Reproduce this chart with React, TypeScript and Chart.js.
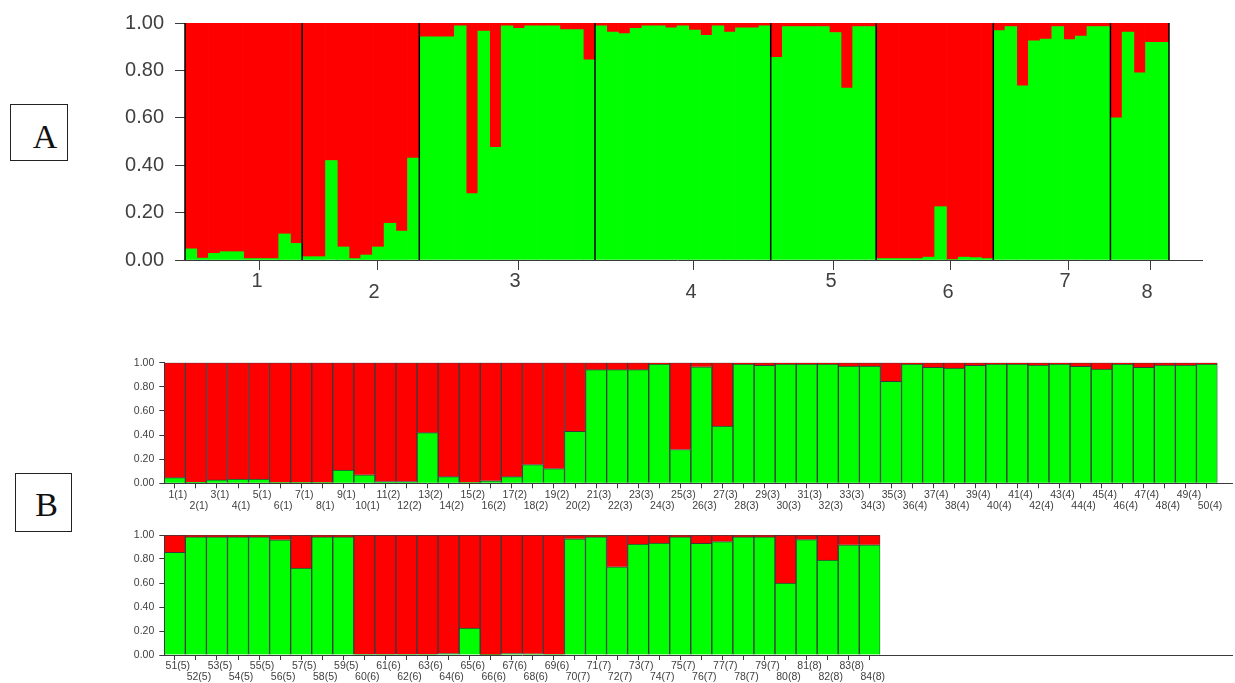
import React, { useEffect, useRef } from 'react';
import { Chart, registerables } from 'chart.js';

Chart.register(...registerables);

// ---- DATA ----
const popLabels = ['1', '2', '3', '4', '5', '6', '7', '8'];
const popSizes = [10, 10, 15, 15, 9, 10, 10, 5];
// positions (in individual index units) where population labels are written in panel A
const popTickAt = [5.9, 15.9, 27.93, 42.95, 54.9, 64.89, 74.88, 81.88];

// membership share in the green cluster, per individual, by population
const pop1Green = [0.047, 0.008, 0.028, 0.035, 0.035, 0.006, 0.006, 0.006, 0.11, 0.07];
const pop2Green = [0.014, 0.014, 0.42, 0.055, 0.006, 0.021, 0.055, 0.155, 0.122, 0.43];
const pop3Green = [0.942, 0.942, 0.942, 0.988, 0.28, 0.966, 0.475, 0.988, 0.978, 0.988, 0.988, 0.988, 0.972, 0.972, 0.845];
const pop4Green = [0.988, 0.962, 0.955, 0.978, 0.988, 0.988, 0.98, 0.988, 0.97, 0.948, 0.988, 0.962, 0.98, 0.98, 0.988];
const pop5Green = [0.855, 0.985, 0.985, 0.985, 0.985, 0.96, 0.725, 0.985, 0.985];
const pop6Green = [0.006, 0.006, 0.006, 0.006, 0.012, 0.225, 0.002, 0.012, 0.01, 0.006];
const pop7Green = [0.968, 0.985, 0.735, 0.925, 0.932, 0.985, 0.93, 0.945, 0.985, 0.985];
const pop8Green = [0.6, 0.962, 0.79, 0.918, 0.918];

const yTickValues = [0, 0.2, 0.4, 0.6, 0.8, 1.0];

const greenShare = [
  ...pop1Green, ...pop2Green, ...pop3Green, ...pop4Green,
  ...pop5Green, ...pop6Green, ...pop7Green, ...pop8Green,
];
const popOfIndividual: number[] = [];
popSizes.forEach((n, p) => { for (let k = 0; k < n; k++) popOfIndividual.push(p + 1); });
const individualLabels = greenShare.map((_, i) => `${i + 1}(${popOfIndividual[i]})`);
const popBounds: number[] = [0];
popSizes.forEach((n) => popBounds.push(popBounds[popBounds.length - 1] + n));

// ---- STYLE ----
const RED = '#ff0000';
const GREEN = '#00ff00';
const SANS = '"Liberation Sans", Arial, sans-serif';
const SERIF = '"Liberation Serif", "Times New Roman", serif';
const TEXT = '#404040';
const AXIS = '#3a3a3a';

const decorPlugin = {
  id: 'decor',
  afterDatasetsDraw(chart: any, _a: any, opts: any) {
    const { ctx, chartArea } = chart;
    ctx.save();
    if (opts && opts.bounds) {
      const xs = chart.scales[opts.scaleId];
      ctx.strokeStyle = '#000';
      ctx.lineWidth = 1.5;
      opts.bounds.forEach((b: number) => {
        const px = xs.getPixelForValue(b - 0.5);
        ctx.beginPath();
        ctx.moveTo(px, chartArea.top);
        ctx.lineTo(px, chartArea.bottom);
        ctx.stroke();
      });
    }
    if (opts && opts.extend) {
      const y = Math.round(chartArea.bottom) + 0.5;
      ctx.strokeStyle = AXIS;
      ctx.lineWidth = 1;
      ctx.beginPath();
      ctx.moveTo(chartArea.right - 1, y);
      ctx.lineTo(chartArea.right + opts.extend, y);
      ctx.stroke();
    }
    ctx.restore();
  },
};

function yScale(width: number, size: number, tickLen: number, pad: number) {
  return {
    type: 'linear',
    stacked: true,
    min: 0,
    max: 1,
    afterFit: (s: any) => { s.width = width; },
    afterBuildTicks: (s: any) => { s.ticks = yTickValues.map((v) => ({ value: v })); },
    grid: { drawOnChartArea: false, tickLength: tickLen, tickColor: AXIS, color: AXIS },
    border: { display: true, color: AXIS, width: 1 },
    ticks: {
      padding: pad,
      color: TEXT,
      font: { family: SANS, size },
      callback: (v: any) => Number(v).toFixed(2),
    },
  };
}

function panelAConfig() {
  const n = greenShare.length;
  return {
    type: 'bar',
    data: {
      labels: individualLabels,
      datasets: [
        { label: 'cluster 2', data: greenShare, backgroundColor: GREEN, borderWidth: 0, xAxisID: 'x', yAxisID: 'y', barPercentage: 1, categoryPercentage: 1 },
        { label: 'cluster 1', data: greenShare.map((v) => 1 - v), backgroundColor: RED, borderWidth: 0, xAxisID: 'x', yAxisID: 'y', barPercentage: 1, categoryPercentage: 1 },
      ],
    },
    options: {
      animation: false,
      responsive: false,
      events: [],
      layout: { padding: { top: 22, right: 66, left: 0, bottom: 0 } },
      plugins: {
        legend: { display: false },
        tooltip: { enabled: false },
        decor: { bounds: popBounds, scaleId: 'xt', extend: 34 },
      },
      scales: {
        x: { type: 'category', display: false, stacked: true, offset: true },
        xt: {
          type: 'linear',
          position: 'bottom',
          offset: false,
          bounds: 'data',
          min: -0.5,
          max: n - 0.5,
          afterFit: (s: any) => { s.height = 50; },
          afterBuildTicks: (s: any) => { s.ticks = popTickAt.map((v) => ({ value: v })); },
          grid: { drawOnChartArea: false, offset: false, tickLength: 10, tickColor: AXIS, color: AXIS },
          border: { display: true, color: AXIS, width: 1 },
          ticks: {
            autoSkip: false,
            maxRotation: 0,
            minRotation: 0,
            padding: 5.5,
            labelOffset: -3,
            color: TEXT,
            font: { family: SANS, size: 20, lineHeight: '11px' },
            callback: (_v: any, i: number) => (i % 2 === 0 ? [popLabels[i]] : ['', popLabels[i]]),
          },
        },
        y: yScale(85, 20, 10, 11),
      },
    },
    plugins: [decorPlugin],
  };
}

function panelBConfig(from: number, to: number, padTop: number, padRight: number, xHeight: number, extend: number) {
  const labels = individualLabels.slice(from, to);
  const green = greenShare.slice(from, to);
  return {
    type: 'bar',
    data: {
      labels,
      datasets: [
        { label: 'cluster 2', data: green, backgroundColor: GREEN, borderColor: AXIS, borderWidth: 1, barPercentage: 1, categoryPercentage: 1 },
        { label: 'cluster 1', data: green.map((v) => 1 - v), backgroundColor: RED, borderColor: AXIS, borderWidth: 1, barPercentage: 1, categoryPercentage: 1 },
      ],
    },
    options: {
      animation: false,
      responsive: false,
      events: [],
      layout: { padding: { top: padTop, right: padRight, left: 0, bottom: 0 } },
      plugins: {
        legend: { display: false },
        tooltip: { enabled: false },
        decor: { extend },
      },
      scales: {
        x: {
          type: 'category',
          stacked: true,
          offset: true,
          afterFit: (s: any) => { s.height = xHeight; },
          grid: { drawOnChartArea: false, offset: false, tickLength: 5, tickColor: AXIS, color: AXIS },
          border: { display: true, color: AXIS, width: 1 },
          ticks: {
            autoSkip: false,
            maxRotation: 0,
            minRotation: 0,
            padding: 1,
            labelOffset: 3,
            color: TEXT,
            font: { family: SANS, size: 10.5, lineHeight: '11px' },
            callback: (_v: any, i: number) => (i % 2 === 0 ? [labels[i]] : ['', labels[i]]),
          },
        },
        y: yScale(64.3, 10.5, 5, 5),
      },
    },
    plugins: [decorPlugin],
  };
}

function ChartCanvas({ left, top, width, height, make }: { left: number; top: number; width: number; height: number; make: () => any }) {
  const ref = useRef<HTMLCanvasElement | null>(null);
  useEffect(() => {
    if (!ref.current) return;
    const chart = new Chart(ref.current, make());
    return () => chart.destroy();
  }, []);
  return (
    <div style={{ position: 'absolute', left, top, width, height }}>
      <canvas ref={ref} width={width} height={height} style={{ width, height, display: 'block' }} />
    </div>
  );
}

function LetterBox({ letter, left, top, width, height, padLeft, padTop }: any) {
  return (
    <div
      style={{
        position: 'absolute', left, top, width, height, boxSizing: 'border-box',
        border: '1px solid #222', display: 'flex', alignItems: 'center', justifyContent: 'center',
        paddingLeft: padLeft, paddingTop: padTop, fontFamily: SERIF, fontSize: 34, color: '#111', lineHeight: 1,
      }}
    >
      {letter}
    </div>
  );
}

export default function App() {
  return (
    <div style={{ position: 'absolute', left: 0, top: 0, width: 1235, height: 683, background: '#fff', overflow: 'hidden' }}>
      <LetterBox letter="A" left={10} top={104} width={58} height={57} padLeft={12} padTop={8} />
      <LetterBox letter="B" left={15} top={473} width={57} height={59} padLeft={6} padTop={4} />
      <ChartCanvas left={100} top={0} width={1135} height={310} make={panelAConfig} />
      <ChartCanvas left={100} top={340} width={1135} height={180} make={() => panelBConfig(0, 50, 22.7, 17.5, 36.7, 15.5)} />
      <ChartCanvas left={100} top={515} width={1135} height={168} make={() => panelBConfig(50, 84, 20, 354.7, 28, 352.7)} />
    </div>
  );
}
